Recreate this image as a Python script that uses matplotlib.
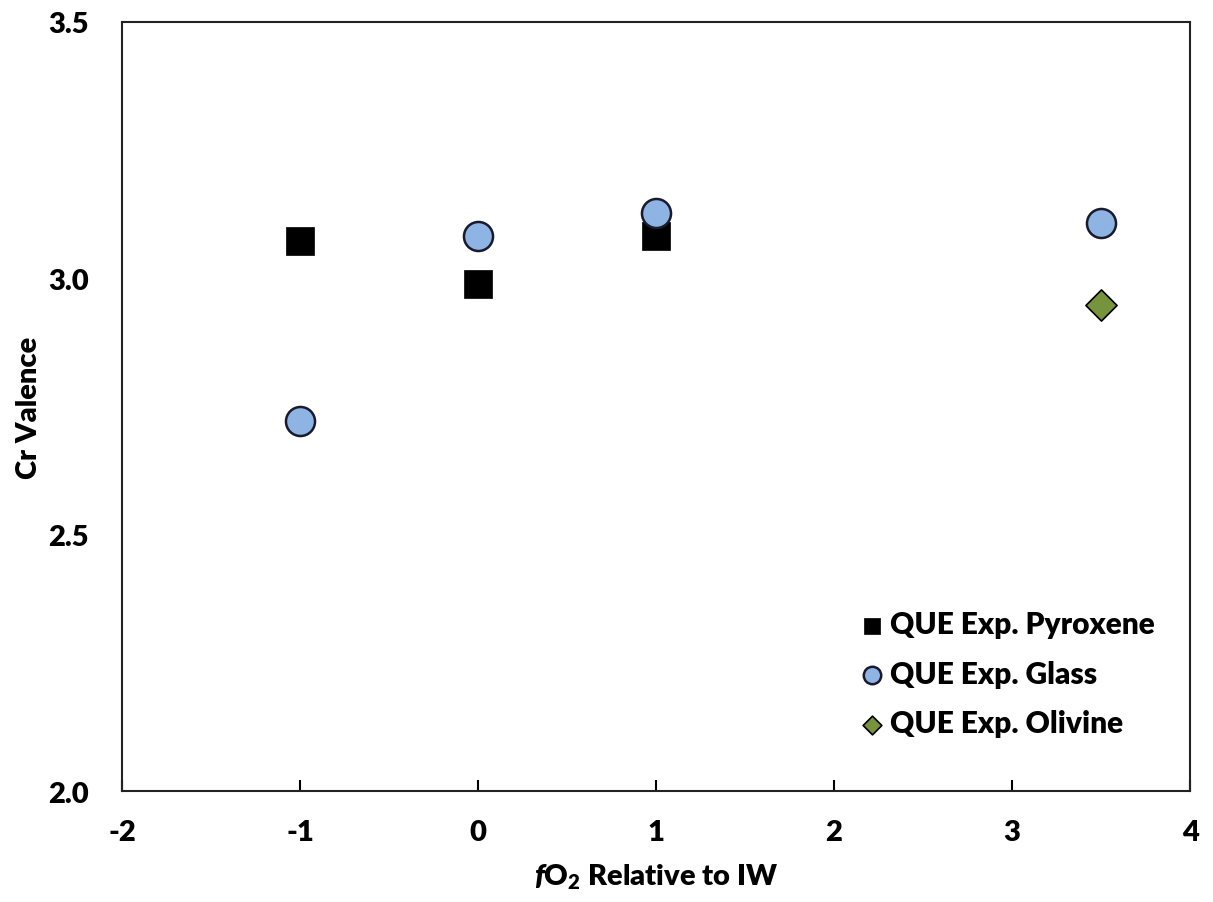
import matplotlib
matplotlib.use("Agg")
import matplotlib.pyplot as plt

plt.rcParams['font.family'] = ['Lato', 'DejaVu Sans']
plt.rcParams['font.weight'] = 'heavy'
plt.rcParams['mathtext.fontset'] = 'custom'
plt.rcParams['mathtext.rm'] = 'Lato:heavy'
plt.rcParams['mathtext.it'] = 'Lato:heavy:italic'
plt.rcParams['mathtext.bf'] = 'Lato:heavy'

pyx_x = [-1, 0, 1]
pyx_y = [3.073, 2.989, 3.083]
glass_x = [-1, 0, 1, 3.5]
glass_y = [2.721, 3.083, 3.126, 3.107]
oliv_x = [3.5]
oliv_y = [2.948]

xticks = [-2, -1, 0, 1, 2, 3, 4]
yticks = [2.0, 2.5, 3.0, 3.5]

fig = plt.figure(figsize=(12.13, 9.03), dpi=100)
ax = fig.add_axes([122/1213, 1 - 792.3/903, (1190-122)/1213, (792.3-22.5)/903])

ax.scatter(pyx_x, pyx_y, marker='s', s=27**2*0.52, c='black', edgecolors='black',
           linewidths=0.5, label='QUE Exp. Pyroxene', zorder=3)
ax.scatter(glass_x, glass_y, marker='o', s=27**2*0.6, c='#8EB4E3', edgecolors='#1a1a2e',
           linewidths=1.8, label='QUE Exp. Glass', zorder=4)
ax.scatter(oliv_x, oliv_y, marker='D', s=22**2*0.52, c='#77933C', edgecolors='black',
           linewidths=1.2, label='QUE Exp. Olivine', zorder=4)

ax.set_xlim(-2, 4)
ax.set_ylim(2.0, 3.5)
ax.set_xticks(xticks)
ax.set_xticklabels([f'{v:g}' for v in xticks])
ax.set_yticks(yticks)
ax.set_yticklabels([f'{v:.1f}' for v in yticks])
ax.tick_params(axis='x', direction='in', length=8, width=1.5, labelsize=21, pad=20)
ax.tick_params(axis='y', direction='in', length=0, width=1.5, labelsize=21, pad=24)
for sp in ax.spines.values():
    sp.set_linewidth(1.5)
    sp.set_color('#222222')

ax.set_xlabel(r'$\mathit{f}$O$_2$ Relative to IW', fontsize=21, fontweight='heavy', labelpad=12)
ax.set_ylabel('Cr Valence', fontsize=21, fontweight='heavy', labelpad=4)

leg = ax.legend(loc='lower right', bbox_to_anchor=(0.992, 0.035), frameon=False, fontsize=21.5,
                markerscale=0.6, handletextpad=0.1, labelspacing=0.72, handlelength=1.0)

fig.savefig('out.png', dpi=100)
